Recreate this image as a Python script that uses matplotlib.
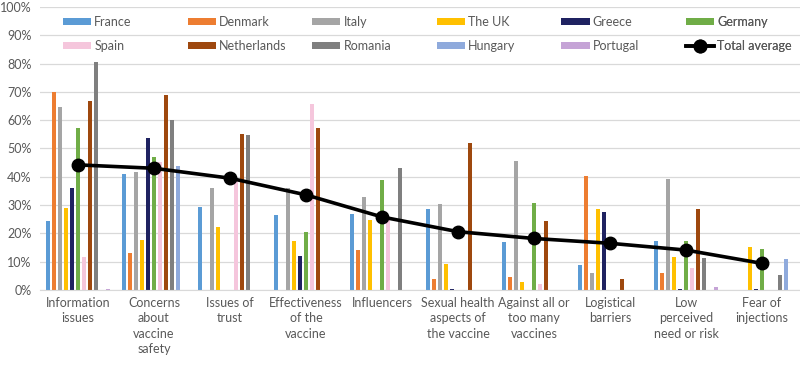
import matplotlib
matplotlib.use("Agg")
import matplotlib.pyplot as plt
import numpy as np
from matplotlib.ticker import PercentFormatter

plt.rcParams['font.family'] = ['Lato', 'DejaVu Sans']

categories = ["Information\nissues", "Concerns\nabout\nvaccine\nsafety", "Issues of\ntrust",
              "Effectiveness\nof the\nvaccine", "Influencers", "Sexual health\naspects of\nthe vaccine",
              "Against all or\ntoo many\nvaccines", "Logistical\nbarriers", "Low\nperceived\nneed or risk",
              "Fear of\ninjections"]

countries = ["France", "Denmark", "Italy", "The UK", "Greece", "Germany",
             "Spain", "Netherlands", "Romania", "Hungary", "Portugal"]

france      = [24.5, 40.9, 29.4, 26.5, 27.0, 28.7, 17.0, 8.8, 17.4, 0.0]
denmark     = [70.0, 13.0, 0.0, 0.0, 14.1, 4.0, 4.7, 40.4, 6.1, 0.0]
italy       = [64.8, 41.7, 35.9, 36.0, 33.0, 30.4, 45.6, 5.9, 39.2, 0.0]
uk          = [28.9, 17.7, 22.1, 17.3, 24.7, 9.1, 2.9, 28.7, 11.5, 15.1]
greece      = [36.2, 53.8, 0.0, 12.0, 0.0, 0.5, 0.0, 27.6, 0.5, 0.3]
germany     = [57.2, 47.1, 0.0, 20.6, 38.9, 0.0, 30.6, 0.0, 17.4, 14.4]
spain       = [11.8, 45.3, 38.5, 65.7, 25.3, 0.0, 2.0, 0.0, 7.7, 0.0]
netherlands = [66.9, 68.9, 55.1, 57.1, 0.0, 51.8, 24.5, 3.8, 28.7, 0.0]
romania     = [80.5, 60.0, 54.8, 0.0, 43.0, 0.0, 0.0, 0.0, 11.4, 5.4]
hungary     = [0.0, 43.9, 0.0, 0.0, 0.0, 0.0, 0.0, 0.0, 0.0, 11.1]
portugal    = [0.5, 0.0, 0.0, 0.0, 0.0, 0.0, 0.0, 0.0, 1.0, 0.0]
total_average = [44.2, 43.0, 39.5, 33.6, 25.8, 20.6, 18.2, 16.5, 14.1, 9.4]

series = [france, denmark, italy, uk, greece, germany, spain, netherlands, romania, hungary, portugal]
colors = ["#5B9BD5", "#ED7D31", "#A5A5A5", "#FFC000", "#1F2261", "#70AD47",
          "#F5C6DC", "#9E480E", "#7F7F7F", "#8FAADC", "#C5A3D6"]

fig = plt.figure(figsize=(8, 3.65), dpi=100)
ax = fig.add_axes([0.05, 0.2055, 0.95, 0.7755])

x = np.arange(len(categories))
n = len(series)
slot = 0.08
bw = 0.052
handles = {}
for i, (vals, c, name) in enumerate(zip(series, colors, countries)):
    offs = (i - (n - 1) / 2) * slot
    bc = ax.bar(x + offs, np.array(vals) / 100, width=bw, color=c, label=name, zorder=2)
    handles[name] = bc

line, = ax.plot(x, np.array(total_average) / 100, color="black", lw=2.6, marker="o", ms=9,
                label="Total average", zorder=4)
handles["Total average"] = line

ax.set_xlim(-0.5, len(categories) - 0.5)
ax.set_ylim(0, 1.0)
ax.set_yticks(np.arange(0, 1.01, 0.1))
ax.yaxis.set_major_formatter(PercentFormatter(1.0, decimals=0))
ax.set_xticks(x)
ax.set_xticklabels(categories, fontsize=9, color="#595959", linespacing=1.35, va="top")
ax.tick_params(axis="y", labelsize=9, labelcolor="#595959", length=0, pad=6)
ax.tick_params(axis="x", length=0, pad=5)
ax.grid(axis="y", color="#D9D9D9", lw=0.9, zorder=0)
ax.set_axisbelow(True)
for s in ["top", "right", "left"]:
    ax.spines[s].set_visible(False)
ax.spines["bottom"].set_color("#D9D9D9")

rows = [countries[:6], countries[6:] + ["Total average"]]
for col in range(6):
    labs = [rows[0][col], rows[1][col]]
    x0 = (63 + 124.6 * col) / 800
    leg = ax.legend([handles[l] for l in labs], labs, loc="upper left",
                    bbox_to_anchor=(x0, 1 - 16.0 / 365), bbox_transform=fig.transFigure,
                    frameon=False, fontsize=9, borderpad=0, borderaxespad=0,
                    handlelength=2.25, handleheight=0.55, handletextpad=0.25,
                    labelspacing=0.95, labelcolor="#595959")
    ax.add_artist(leg)

fig.savefig("out.png", dpi=100)
